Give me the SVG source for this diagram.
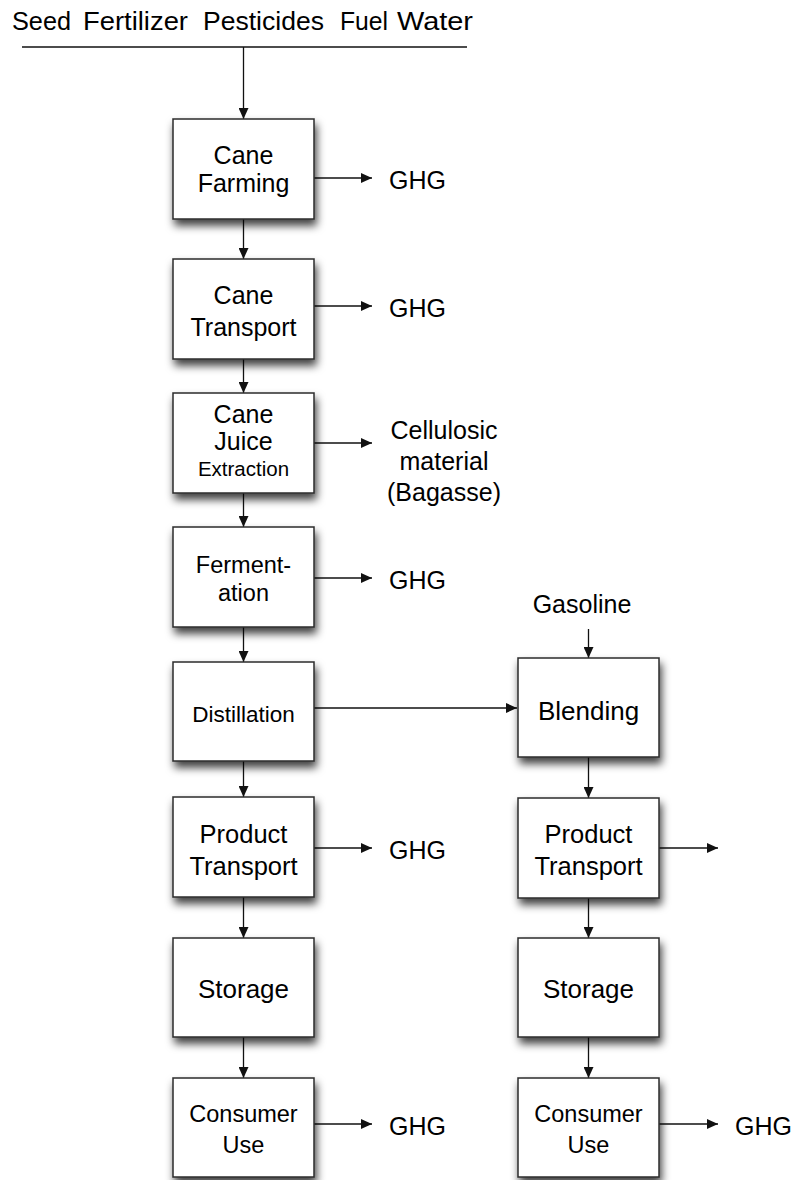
<svg xmlns="http://www.w3.org/2000/svg" width="798" height="1180" viewBox="0 0 798 1180">
  <style>
    text { font-family: "Liberation Sans", Arial, Helvetica, sans-serif; fill: #000; }
    .box { fill: #fff; stroke: #2b2b2b; stroke-width: 1.5; filter: url(#shadow); }
    .lbl { text-anchor: middle; }
    .wire { stroke: #111; stroke-width: 1.3; fill: none; }
    .arr { marker-end: url(#head); }
  </style>
  <defs>
    <filter id="shadow" x="-20%" y="-20%" width="150%" height="160%">
      <feDropShadow dx="2" dy="6" stdDeviation="4" flood-color="#000" flood-opacity="0.75"/>
    </filter>
    <marker id="head" markerUnits="userSpaceOnUse" markerWidth="12" markerHeight="10" refX="11" refY="5" orient="auto">
      <path d="M0,0 L11,5 L0,10 Z" fill="#111"/>
    </marker>
  </defs>

  <!-- inputs header -->
  <g id="inputs" font-size="25">
    <text x="12" y="30" textLength="59" lengthAdjust="spacingAndGlyphs">Seed</text>
    <text x="83" y="30" textLength="105" lengthAdjust="spacingAndGlyphs">Fertilizer</text>
    <text x="203" y="30" textLength="121" lengthAdjust="spacingAndGlyphs">Pesticides</text>
    <text x="340" y="30" textLength="48" lengthAdjust="spacingAndGlyphs">Fuel</text>
    <text x="397" y="30" textLength="76" lengthAdjust="spacingAndGlyphs">Water</text>
  </g>

  <!-- connectors -->
  <g id="connectors">
    <line class="wire" x1="22" y1="47" x2="467" y2="47"/>
    <line class="wire arr" x1="243.5" y1="47" x2="243.5" y2="119"/>
    <!-- left column flow -->
    <line class="wire arr" x1="243.5" y1="219" x2="243.5" y2="259"/>
    <line class="wire arr" x1="243.5" y1="359" x2="243.5" y2="393"/>
    <line class="wire arr" x1="243.5" y1="493" x2="243.5" y2="527"/>
    <line class="wire arr" x1="243.5" y1="627" x2="243.5" y2="662"/>
    <line class="wire arr" x1="243.5" y1="761" x2="243.5" y2="797"/>
    <line class="wire arr" x1="243.5" y1="897" x2="243.5" y2="938"/>
    <line class="wire arr" x1="243.5" y1="1037" x2="243.5" y2="1078"/>
    <!-- left column outputs -->
    <line class="wire arr" x1="314" y1="178" x2="372" y2="178"/>
    <line class="wire arr" x1="314" y1="306" x2="372" y2="306"/>
    <line class="wire arr" x1="314" y1="443" x2="372" y2="443"/>
    <line class="wire arr" x1="314" y1="578" x2="372" y2="578"/>
    <line class="wire arr" x1="314" y1="708" x2="517" y2="708"/>
    <line class="wire arr" x1="314" y1="848" x2="372" y2="848"/>
    <line class="wire arr" x1="314" y1="1124" x2="372" y2="1124"/>
    <!-- right column flow -->
    <line class="wire arr" x1="588.5" y1="629" x2="588.5" y2="658"/>
    <line class="wire arr" x1="588.5" y1="757" x2="588.5" y2="798"/>
    <line class="wire arr" x1="588.5" y1="898" x2="588.5" y2="938"/>
    <line class="wire arr" x1="588.5" y1="1037" x2="588.5" y2="1078"/>
    <line class="wire arr" x1="659" y1="848" x2="718" y2="848"/>
    <line class="wire arr" x1="659" y1="1124" x2="718" y2="1124"/>
  </g>

  <!-- left column nodes -->
  <g id="cane-farming">
    <rect class="box" x="173" y="119" width="141" height="100"/>
    <text class="lbl" font-size="25" x="243.5" y="164">Cane</text>
    <text class="lbl" font-size="25" x="243.5" y="192">Farming</text>
  </g>
  <g id="cane-transport">
    <rect class="box" x="173" y="259" width="141" height="100"/>
    <text class="lbl" font-size="25" x="243.5" y="304">Cane</text>
    <text class="lbl" font-size="25" x="243.5" y="336">Transport</text>
  </g>
  <g id="juice-extraction">
    <rect class="box" x="173" y="393" width="141" height="100"/>
    <text class="lbl" font-size="25" x="243.5" y="423">Cane</text>
    <text class="lbl" font-size="25" x="243.5" y="450">Juice</text>
    <text class="lbl" font-size="20.5" x="243.5" y="476">Extraction</text>
  </g>
  <g id="fermentation">
    <rect class="box" x="173" y="527" width="141" height="100"/>
    <text class="lbl" font-size="23.5" x="243.5" y="573">Ferment-</text>
    <text class="lbl" font-size="23.5" x="243.5" y="601">ation</text>
  </g>
  <g id="distillation">
    <rect class="box" x="173" y="662" width="141" height="99"/>
    <text class="lbl" font-size="22.5" x="243.5" y="722">Distillation</text>
  </g>
  <g id="product-transport-a">
    <rect class="box" x="173" y="797" width="141" height="100"/>
    <text class="lbl" font-size="25.5" x="243.5" y="843">Product</text>
    <text class="lbl" font-size="25.5" x="243.5" y="875">Transport</text>
  </g>
  <g id="storage-a">
    <rect class="box" x="173" y="938" width="141" height="99"/>
    <text class="lbl" font-size="26" x="243.5" y="998">Storage</text>
  </g>
  <g id="consumer-use-a">
    <rect class="box" x="173" y="1078" width="141" height="99"/>
    <text class="lbl" font-size="23.5" x="243.5" y="1122">Consumer</text>
    <text class="lbl" font-size="23.5" x="243.5" y="1153">Use</text>
  </g>

  <!-- right column nodes -->
  <g id="gasoline">
    <text class="lbl" font-size="25" x="582" y="613">Gasoline</text>
  </g>
  <g id="blending">
    <rect class="box" x="518" y="658" width="141" height="99"/>
    <text class="lbl" font-size="26" x="588.5" y="720">Blending</text>
  </g>
  <g id="product-transport-b">
    <rect class="box" x="518" y="798" width="141" height="100"/>
    <text class="lbl" font-size="25.5" x="588.5" y="843">Product</text>
    <text class="lbl" font-size="25.5" x="588.5" y="875">Transport</text>
  </g>
  <g id="storage-b">
    <rect class="box" x="518" y="938" width="141" height="99"/>
    <text class="lbl" font-size="26" x="588.5" y="998">Storage</text>
  </g>
  <g id="consumer-use-b">
    <rect class="box" x="518" y="1078" width="141" height="99"/>
    <text class="lbl" font-size="23.5" x="588.5" y="1122">Consumer</text>
    <text class="lbl" font-size="23.5" x="588.5" y="1153">Use</text>
  </g>

  <!-- output labels -->
  <g id="outputs" font-size="25">
    <text x="389" y="189">GHG</text>
    <text x="389" y="317">GHG</text>
    <text class="lbl" x="444" y="439">Cellulosic</text>
    <text class="lbl" x="444" y="470">material</text>
    <text class="lbl" x="444" y="501">(Bagasse)</text>
    <text x="389" y="589">GHG</text>
    <text x="389" y="859">GHG</text>
    <text x="389" y="1135">GHG</text>
    <text x="735" y="1135">GHG</text>
  </g>
</svg>
